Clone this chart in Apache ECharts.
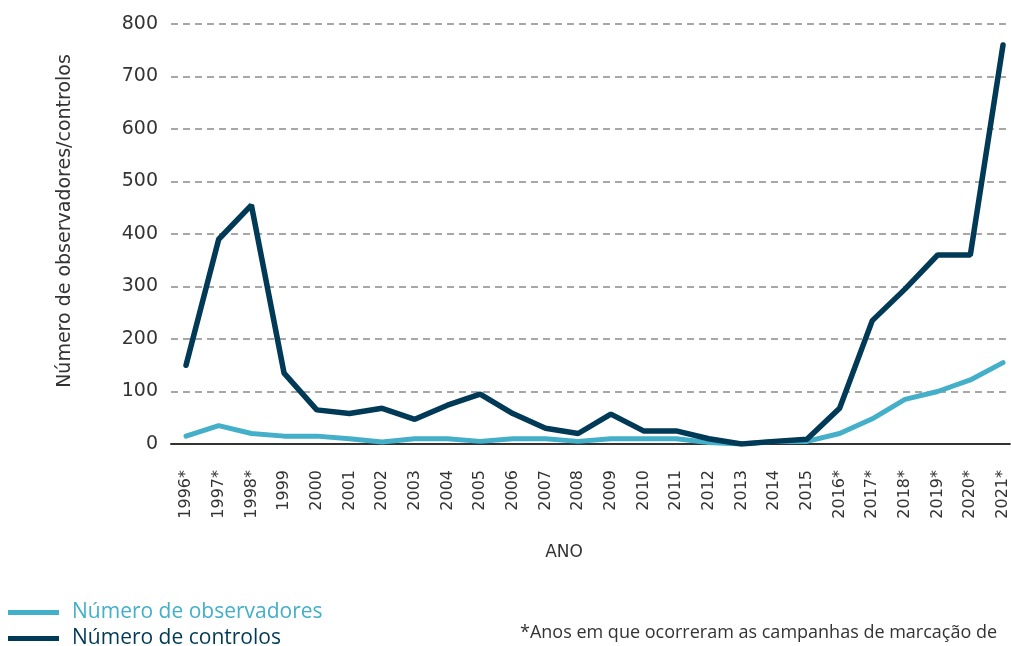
<!DOCTYPE html>
<html>
<head>
<meta charset="utf-8">
<script src="https://cdn.jsdelivr.net/npm/echarts@6/dist/echarts.min.js"></script>
<style>
  html, body { margin: 0; padding: 0; background: #fff; }
  #chart { width: 1011px; height: 646px; }
</style>
</head>
<body>
<div id="chart"></div>
<script>
// anos (com * = campanhas de marcação)
var anos = ['1996*', '1997*', '1998*', '1999', '2000', '2001', '2002', '2003', '2004', '2005',
  '2006', '2007', '2008', '2009', '2010', '2011', '2012', '2013', '2014', '2015',
  '2016*', '2017*', '2018*', '2019*', '2020*', '2021*'];
var observadores = [15, 35, 20, 15, 15, 10, 4, 10, 10, 5, 10, 10, 5, 10, 10, 10, 3, 0, 5, 5, 20, 48, 85, 100, 122, 155];
var controlos = [150, 390, 455, 135, 65, 58, 68, 47, 74, 95, 58, 30, 20, 57, 25, 25, 10, 0, 5, 9, 68, 235, 295, 360, 360, 760];
var yTicks = [0, 100, 200, 300, 400, 500, 600, 700, 800];

var corObs = '#44afc8';
var corCtl = '#013a57';
var fonteEixo = '"DejaVu Sans", sans-serif';
var fonteLeg = '"Open Sans", sans-serif';

var chart = echarts.init(document.getElementById('chart'));

// pares [índice, valor] para usar eixo numérico com as etiquetas dos anos
function pares(arr) {
  return arr.map(function (v, i) { return [i, v]; });
}
var indices = anos.map(function (a, i) { return i; });

function legenda(nome, cor, topo) {
  return {
    left: 8,
    top: topo,
    padding: 0,
    itemWidth: 51,
    itemHeight: 5,
    icon: 'rect',
    textStyle: { color: cor, fontFamily: fonteLeg, fontSize: 21, lineHeight: 20, padding: [0, 0, 0, 8] },
    data: [nome]
  };
}

var option = {
  animation: false,
  grid: { left: 171, right: 1, top: 24, bottom: 202 },
  xAxis: {
    type: 'value',
    min: -0.46,
    max: 25.21,
    axisLine: { show: true, onZero: false, lineStyle: { color: '#333', width: 2 } },
    axisTick: { show: false, customValues: indices },
    splitLine: { show: false },
    axisLabel: {
      customValues: indices,
      rotate: 90,
      margin: 26,
      color: '#333',
      fontFamily: fonteEixo,
      fontSize: 16,
      formatter: function (v) { return anos[v]; }
    }
  },
  yAxis: {
    type: 'value',
    min: 0,
    max: 800,
    interval: 100,
    axisLine: { show: false },
    axisTick: { show: false },
    axisLabel: {
      margin: 13,
      color: '#333',
      fontFamily: fonteEixo,
      fontSize: 19,
      formatter: function (v) { return yTicks.indexOf(v) >= 0 ? String(v) : ''; }
    },
    splitLine: { lineStyle: { color: '#8a8a8a', type: [7, 5], width: 1.5 } }
  },
  legend: [
    legenda('Número de observadores', corObs, 602),
    legenda('Número de controlos', corCtl, 628)
  ],
  graphic: [
    {
      type: 'text', x: 65, y: 221, rotation: Math.PI / 2,
      style: { text: 'Número de observadores/controlos', fill: '#333', font: '19px ' + fonteEixo, align: 'center', verticalAlign: 'middle' }
    },
    {
      type: 'text', x: 564, y: 553,
      style: { text: 'ANO', fill: '#333', font: '17px ' + fonteEixo, align: 'center', verticalAlign: 'middle' }
    },
    {
      type: 'text', x: 520, y: 633,
      style: { text: '*Anos em que ocorreram as campanhas de marcação de', fill: '#333', font: '18px ' + fonteLeg, verticalAlign: 'middle' }
    }
  ],
  series: [
    {
      name: 'Número de observadores',
      type: 'line',
      data: pares(observadores),
      symbol: 'none',
      color: corObs,
      lineStyle: { width: 5, color: corObs, cap: 'round' },
      z: 2
    },
    {
      name: 'Número de controlos',
      type: 'line',
      data: pares(controlos),
      symbol: 'none',
      color: corCtl,
      lineStyle: { width: 5.5, color: corCtl, cap: 'round' },
      z: 3
    }
  ]
};

chart.setOption(option);
</script>
</body>
</html>
